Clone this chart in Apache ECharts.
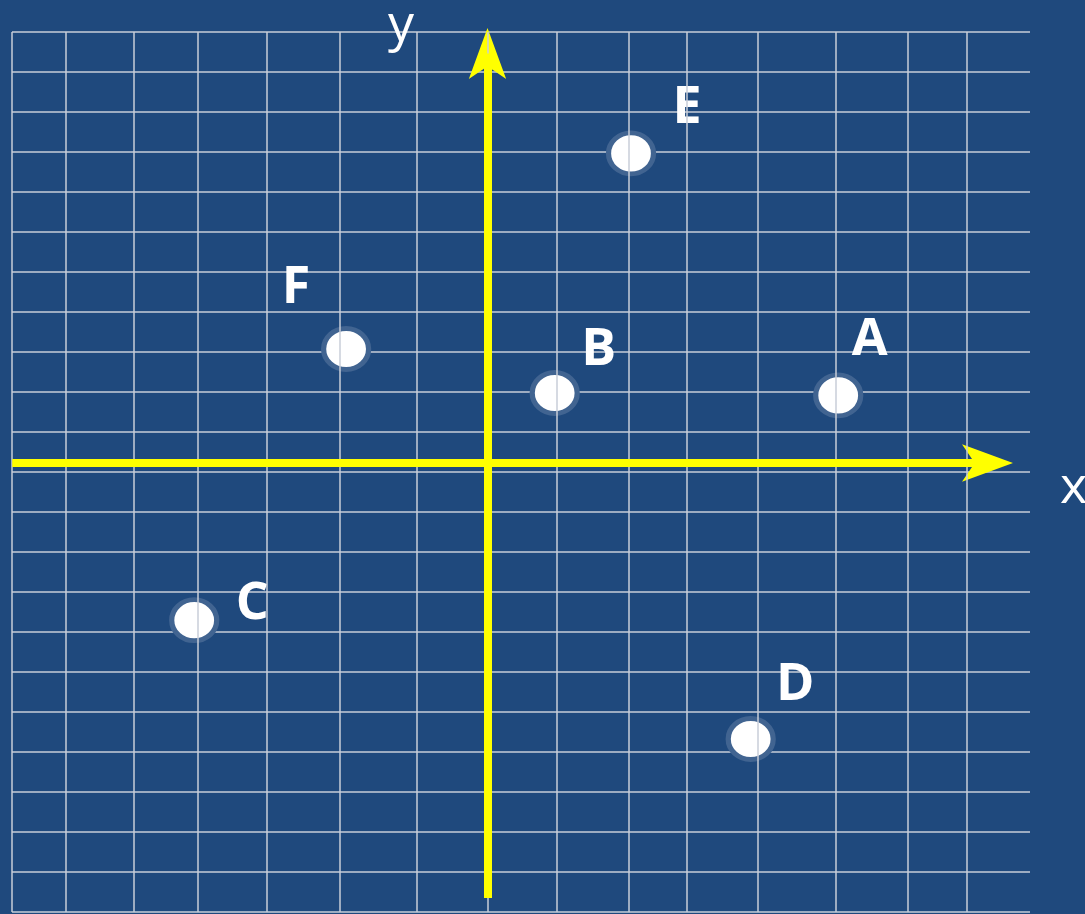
<!DOCTYPE html>
<html>
<head>
<meta charset="utf-8">
<title>坐标平面</title>
<script src="https://cdn.jsdelivr.net/npm/echarts@6/dist/echarts.min.js"></script>
<style>
html, body { margin: 0; padding: 0; background: #1F497D; }
#main { width: 1085px; height: 914px; }
</style>
</head>
<body>
<div id="main"></div>
<script>
// 点的名称和坐标（x：一格约一列宽，y：一格为一行高）
var names = ['A', 'B', 'C', 'D', 'E', 'F'];
var xs = [5.01, 0.96, -4.19, 3.76, 2.05, -2.02];
var ys = [1.69, 1.75, -3.93, -6.9, 7.74, 2.85];

// 竖直网格线（列宽不均匀）
var gridXs = [-6.79, -6.02, -5.05, -4.14, -3.16, -2.11, -1.01, 0, 0.99, 2.02, 2.84, 3.86, 4.98, 6.01, 6.85];
var rowCount = 22;
var gridTop = 10.775;

// 坐标范围；黄色坐标轴的起点、轴线终点和箭头尖
var xRange = [-6.793, 7.75];
var yRange = [-11.225, 10.875];
var xAxisEnds = [-6.79, 7.143];
var yAxisEnds = [-10.875, 10.24];
var arrowTips = [7.507, 10.875];

// 字母标签相对圆点的偏移（像素）
var labelOffsets = [[31.5, -55.5], [44, -42.5], [58, -16], [44.5, -54], [56, -45], [-50, -60.5]];

var gridColor = '#C8CED8';
var yellow = '#FFFF00';
var myChart = echarts.init(document.getElementById('main'));

var pointData = names.map(function (n, i) {
	return {
		name: n,
		value: [xs[i], ys[i]],
		label: { offset: labelOffsets[i] }
	};
});

option = {
	backgroundColor: '#1F497D',
	animation: false,
	grid: { left: 12, right: 55, top: 28, bottom: 2, containLabel: false, outerBoundsMode: 'none' },
	xAxis: {
		type: 'value',
		min: xRange[0],
		max: xRange[1],
		name: 'x',
		nameLocation: 'end',
		nameGap: 30,
		nameTextStyle: {
			color: '#fff', fontSize: 52, fontFamily: 'Open Sans',
			align: 'left', verticalAlign: 'top', lineHeight: 50
		},
		axisLine: { show: false, onZero: true, onZeroAxisIndex: 0 },
		axisTick: { show: false },
		axisLabel: { show: false },
		splitLine: { show: false }
	},
	yAxis: [
		{
			type: 'value',
			min: yRange[0],
			max: yRange[1],
			name: 'y',
			nameLocation: 'end',
			nameGap: 2,
			nameTextStyle: {
				color: '#fff', fontSize: 52, fontFamily: 'Open Sans',
				align: 'center', verticalAlign: 'middle', padding: [0, 173, 0, 0]
			},
			axisLine: { show: false, onZero: true },
			axisTick: { show: false },
			axisLabel: { show: false },
			splitLine: { show: false }
		},
		{
			// 只用来画水平网格线
			type: 'value',
			min: 0,
			max: rowCount + 0.1,
			interval: 1,
			axisLine: { show: false, onZero: false },
			axisTick: { show: false },
			axisLabel: { show: false },
			splitLine: { show: true, showMaxLine: false, lineStyle: { color: gridColor, width: 1.5 } }
		}
	],
	series: [
		{
			// 竖直网格线
			type: 'line',
			data: [],
			z: 1,
			markLine: {
				silent: true,
				symbol: 'none',
				label: { show: false },
				lineStyle: { color: gridColor, width: 1.5, type: 'solid' },
				data: gridXs.map(function (v) {
					return [{ coord: [v, yRange[0]] }, { coord: [v, gridTop] }];
				})
			}
		},
		{
			// 黄色坐标轴
			type: 'line',
			data: [],
			z: 2,
			markLine: {
				silent: true,
				symbol: 'none',
				label: { show: false },
				lineStyle: { color: yellow, width: 8, type: 'solid', opacity: 1 },
				data: [
					[{ coord: [xAxisEnds[0], 0] }, { coord: [xAxisEnds[1], 0] }],
					[{ coord: [0, yAxisEnds[0]] }, { coord: [0, yAxisEnds[1]] }]
				]
			}
		},
		{
			// 坐标轴箭头（尖在数据点上）
			type: 'scatter',
			z: 2,
			silent: true,
			symbol: 'arrow',
			symbolSize: [28, 51],
			itemStyle: { color: yellow, opacity: 1 },
			data: [
				{ value: [arrowTips[0], 0], symbolRotate: -90 },
				{ value: [0, arrowTips[1]], symbolRotate: 0 }
			]
		},
		{
			type: 'scatter',
			z: 3,
			symbol: 'circle',
			symbolSize: [45, 41],
			itemStyle: {
				color: '#FFFFFF',
				borderColor: '#416491',
				borderWidth: 5,
				opacity: 1
			},
			label: {
				show: true,
				position: 'inside',
				formatter: '{b}',
				color: '#FFFFFF',
				fontSize: 52,
				fontWeight: 'bold',
				fontFamily: 'Open Sans'
			},
			emphasis: { disabled: true },
			data: pointData
		}
	]
};
// 为echarts对象加载数据
myChart.setOption(option);
</script>
</body>
</html>
